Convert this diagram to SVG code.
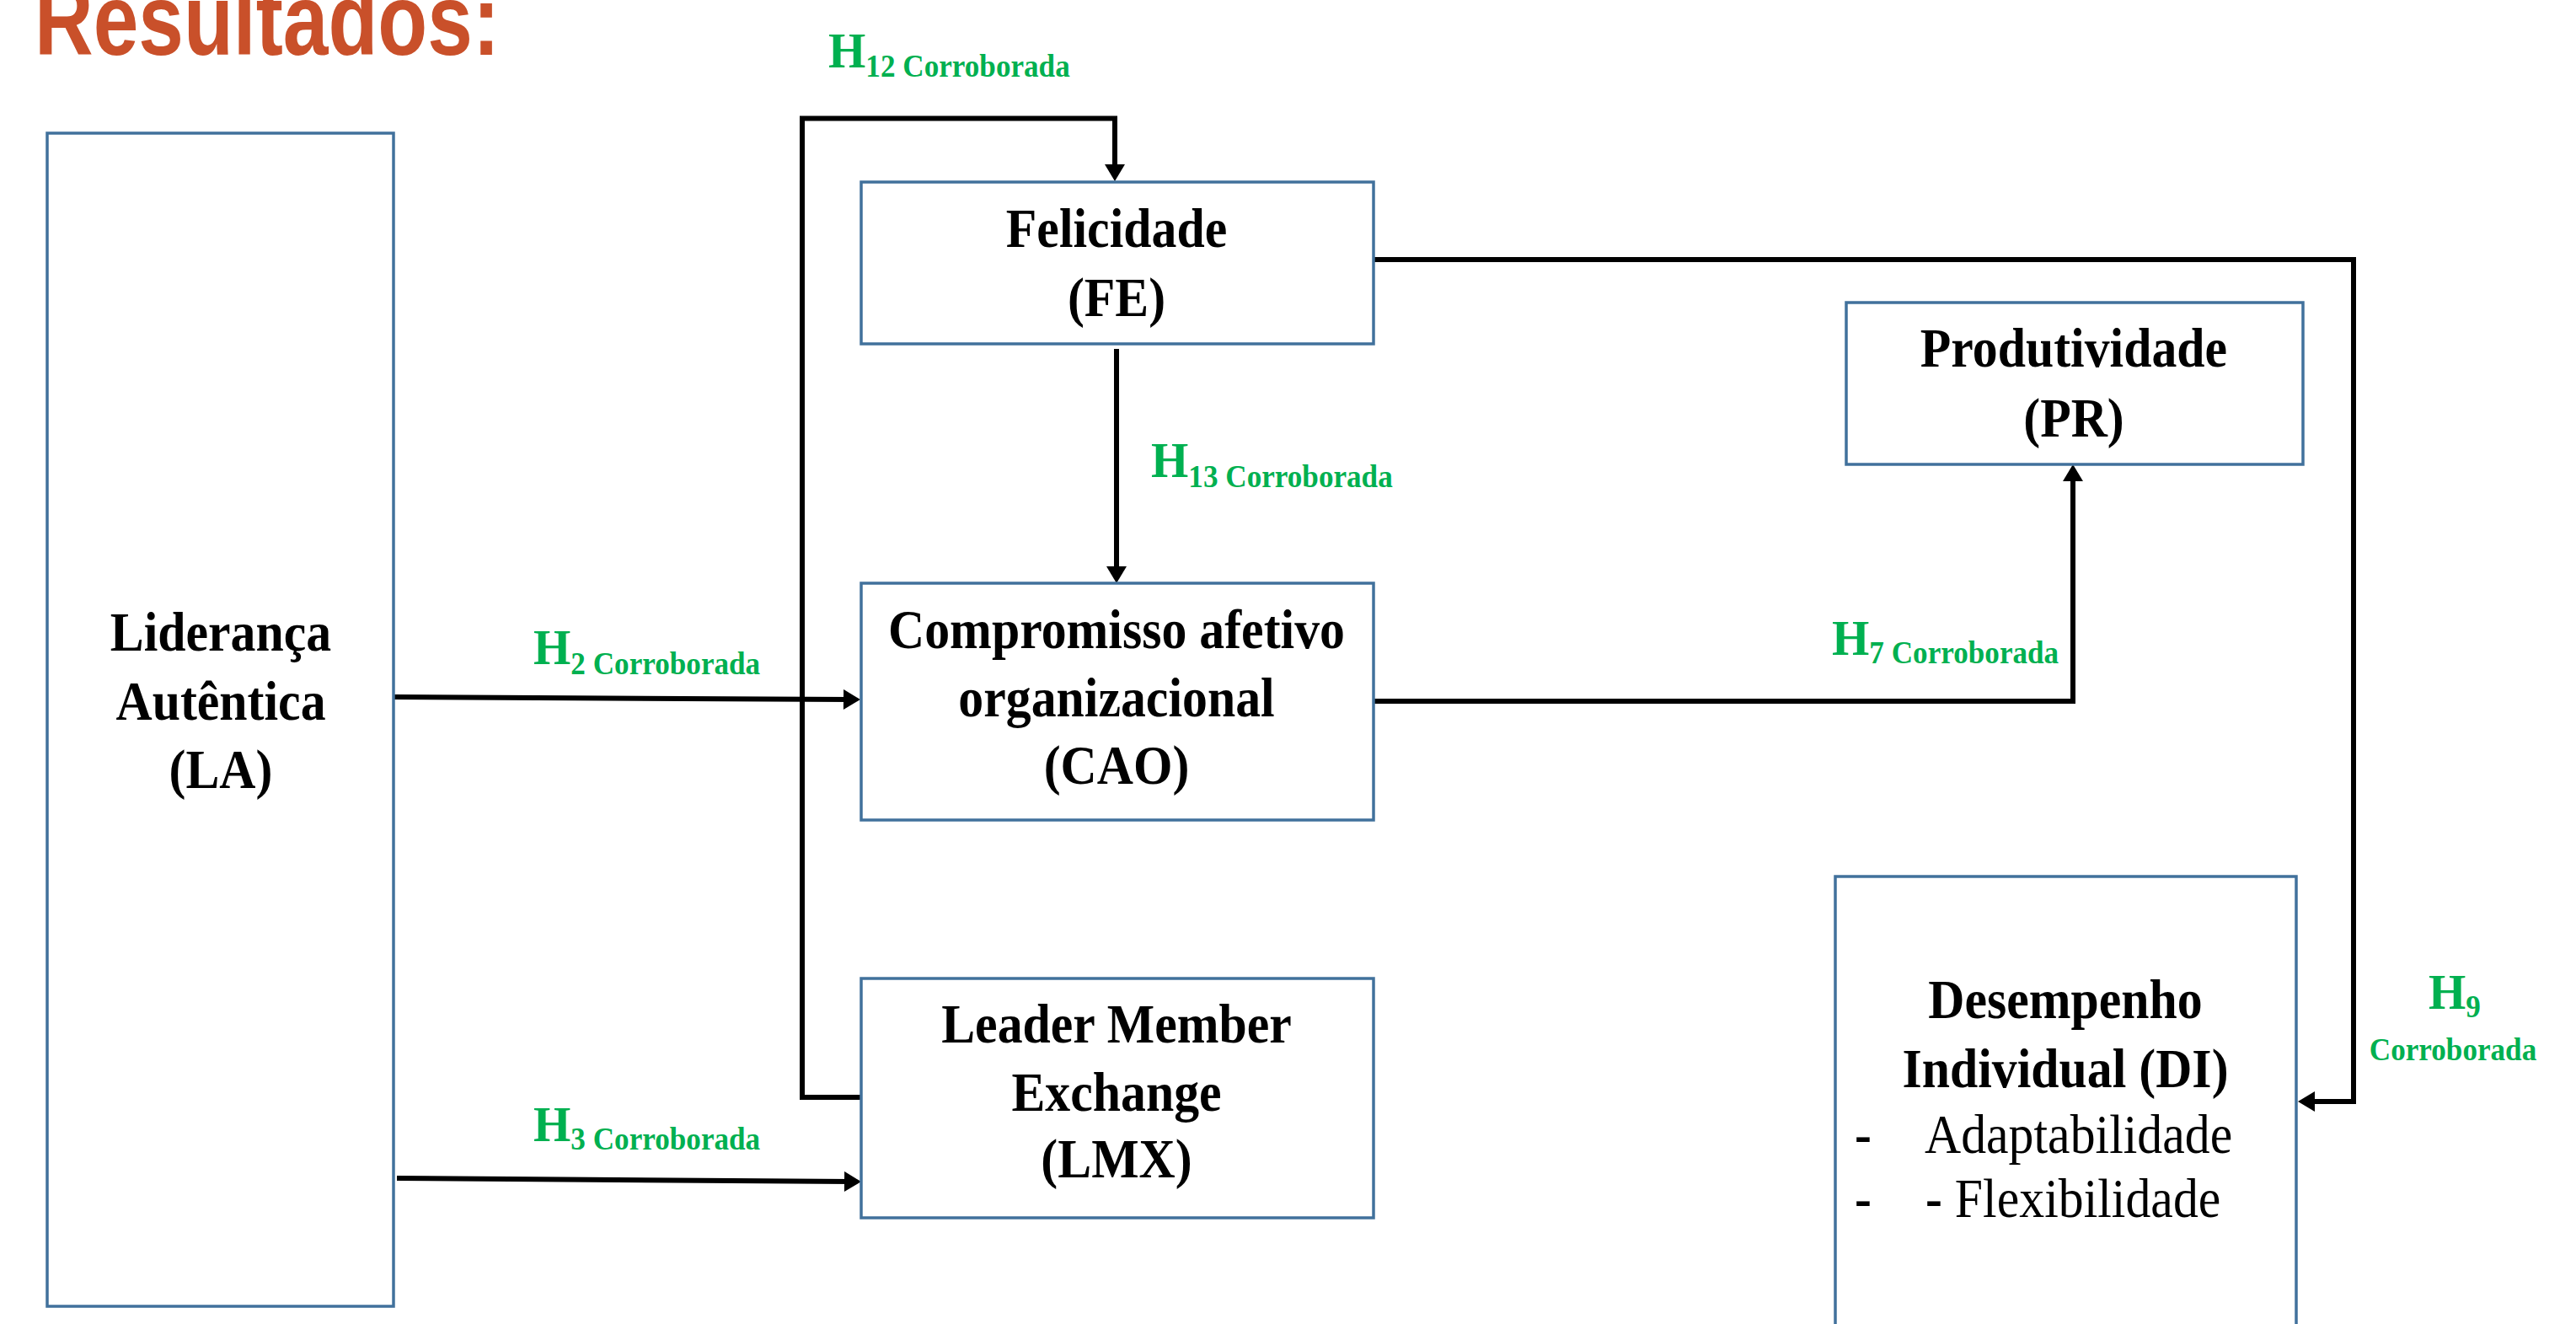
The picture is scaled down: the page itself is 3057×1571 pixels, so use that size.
<svg xmlns="http://www.w3.org/2000/svg" width="3057" height="1571" viewBox="0 0 3057 1571">
<defs>
<style>
.box{fill:#FFFFFF;stroke:#41719C;stroke-width:3.5}
.nt{font-family:"Liberation Serif","Times New Roman",serif;font-weight:bold;font-size:65px;fill:#000000;text-anchor:middle}
.rt{font-family:"Liberation Serif","Times New Roman",serif;font-weight:normal;font-size:65px;fill:#000000}
.bd{font-weight:bold}
.lab{font-family:"Liberation Serif","Times New Roman",serif;font-weight:bold;font-size:60px;fill:#00B050}
.sub{font-size:37px}
.con{fill:none;stroke:#000000;stroke-width:6;stroke-linejoin:miter}
.title{font-family:"Liberation Sans",Arial,sans-serif;font-weight:bold;font-size:120px;fill:#C9502A}
</style>
<marker id="arr" markerUnits="userSpaceOnUse" markerWidth="24" markerHeight="24" refX="8" refY="12" orient="auto" viewBox="0 0 20 24">
<path d="M0,0 L20,12 L0,24 z" fill="#000000"/>
</marker>
</defs>
<rect x="0" y="0" width="3057" height="1571" fill="#FFFFFF"/>
<text class="title" x="41" y="65" textLength="552" lengthAdjust="spacingAndGlyphs">Resultados:</text>

<g id="connectors">
<path class="con" d="M468,827 L1009,830" marker-end="url(#arr)"/>
<path class="con" d="M471,1398 L1010,1402" marker-end="url(#arr)"/>
<path class="con" d="M1022,1302 H952 V140.5 H1323 V203" marker-end="url(#arr)"/>
<path class="con" d="M1325,414 V680" marker-end="url(#arr)"/>
<path class="con" d="M1630,308 H2793 V1307 H2739" marker-end="url(#arr)"/>
<path class="con" d="M1630,832 H2460 V563" marker-end="url(#arr)"/>
</g>

<g id="labels">
<text class="lab" transform="translate(983,80) scale(0.95,1)">H<tspan class="sub" dy="11">12 Corroborada</tspan></text>
<text class="lab" transform="translate(1366,566) scale(0.95,1)">H<tspan class="sub" dy="12">13 Corroborada</tspan></text>
<text class="lab" transform="translate(633,788) scale(0.95,1)">H<tspan class="sub" dy="12">2 Corroborada</tspan></text>
<text class="lab" transform="translate(633,1354) scale(0.95,1)">H<tspan class="sub" dy="10">3 Corroborada</tspan></text>
<text class="lab" transform="translate(2174,777) scale(0.95,1)">H<tspan class="sub" dy="10">7 Corroborada</tspan></text>
<text class="lab" transform="translate(2882,1197) scale(0.95,1)">H<tspan class="sub" dy="10">9</tspan></text>
<text class="lab sub" transform="translate(2911,1258) scale(0.95,1)" text-anchor="middle">Corroborada</text>
</g>

<g id="node-LA">
<rect class="box" x="56" y="158" width="411" height="1392"/>
<text class="nt" transform="translate(262,772) scale(0.92,1)">Liderança</text>
<text class="nt" transform="translate(262,854) scale(0.92,1)">Autêntica</text>
<text class="nt" transform="translate(262,935) scale(0.92,1)">(LA)</text>
</g>

<g id="node-FE">
<rect class="box" x="1022" y="216" width="608" height="192"/>
<text class="nt" transform="translate(1325,293) scale(0.92,1)">Felicidade</text>
<text class="nt" transform="translate(1325,375) scale(0.92,1)">(FE)</text>
</g>

<g id="node-PR">
<rect class="box" x="2191" y="359" width="542" height="192"/>
<text class="nt" transform="translate(2461,435) scale(0.92,1)">Produtividade</text>
<text class="nt" transform="translate(2461,518) scale(0.92,1)">(PR)</text>
</g>

<g id="node-CAO">
<rect class="box" x="1022" y="692" width="608" height="281"/>
<text class="nt" transform="translate(1325,769) scale(0.92,1)">Compromisso afetivo</text>
<text class="nt" transform="translate(1325,850) scale(0.92,1)">organizacional</text>
<text class="nt" transform="translate(1325,930) scale(0.92,1)">(CAO)</text>
</g>

<g id="node-LMX">
<rect class="box" x="1022" y="1161" width="608" height="284"/>
<text class="nt" transform="translate(1325,1237) scale(0.92,1)">Leader Member</text>
<text class="nt" transform="translate(1325,1318) scale(0.92,1)">Exchange</text>
<text class="nt" transform="translate(1325,1397) scale(0.92,1)">(LMX)</text>
</g>

<g id="node-DI">
<rect class="box" x="2178" y="1040" width="547" height="560"/>
<text class="nt" transform="translate(2451,1208) scale(0.92,1)">Desempenho</text>
<text class="nt" transform="translate(2451,1290) scale(0.92,1)">Individual (DI)</text>
<text class="rt bd" transform="translate(2201,1368) scale(0.92,1)">-</text>
<text class="rt" transform="translate(2284,1368) scale(0.92,1)">Adaptabilidade</text>
<text class="rt bd" transform="translate(2201,1444) scale(0.92,1)">-</text>
<text class="rt" transform="translate(2285,1444) scale(0.92,1)"><tspan class="bd">-</tspan> Flexibilidade</text>
</g>
</svg>
